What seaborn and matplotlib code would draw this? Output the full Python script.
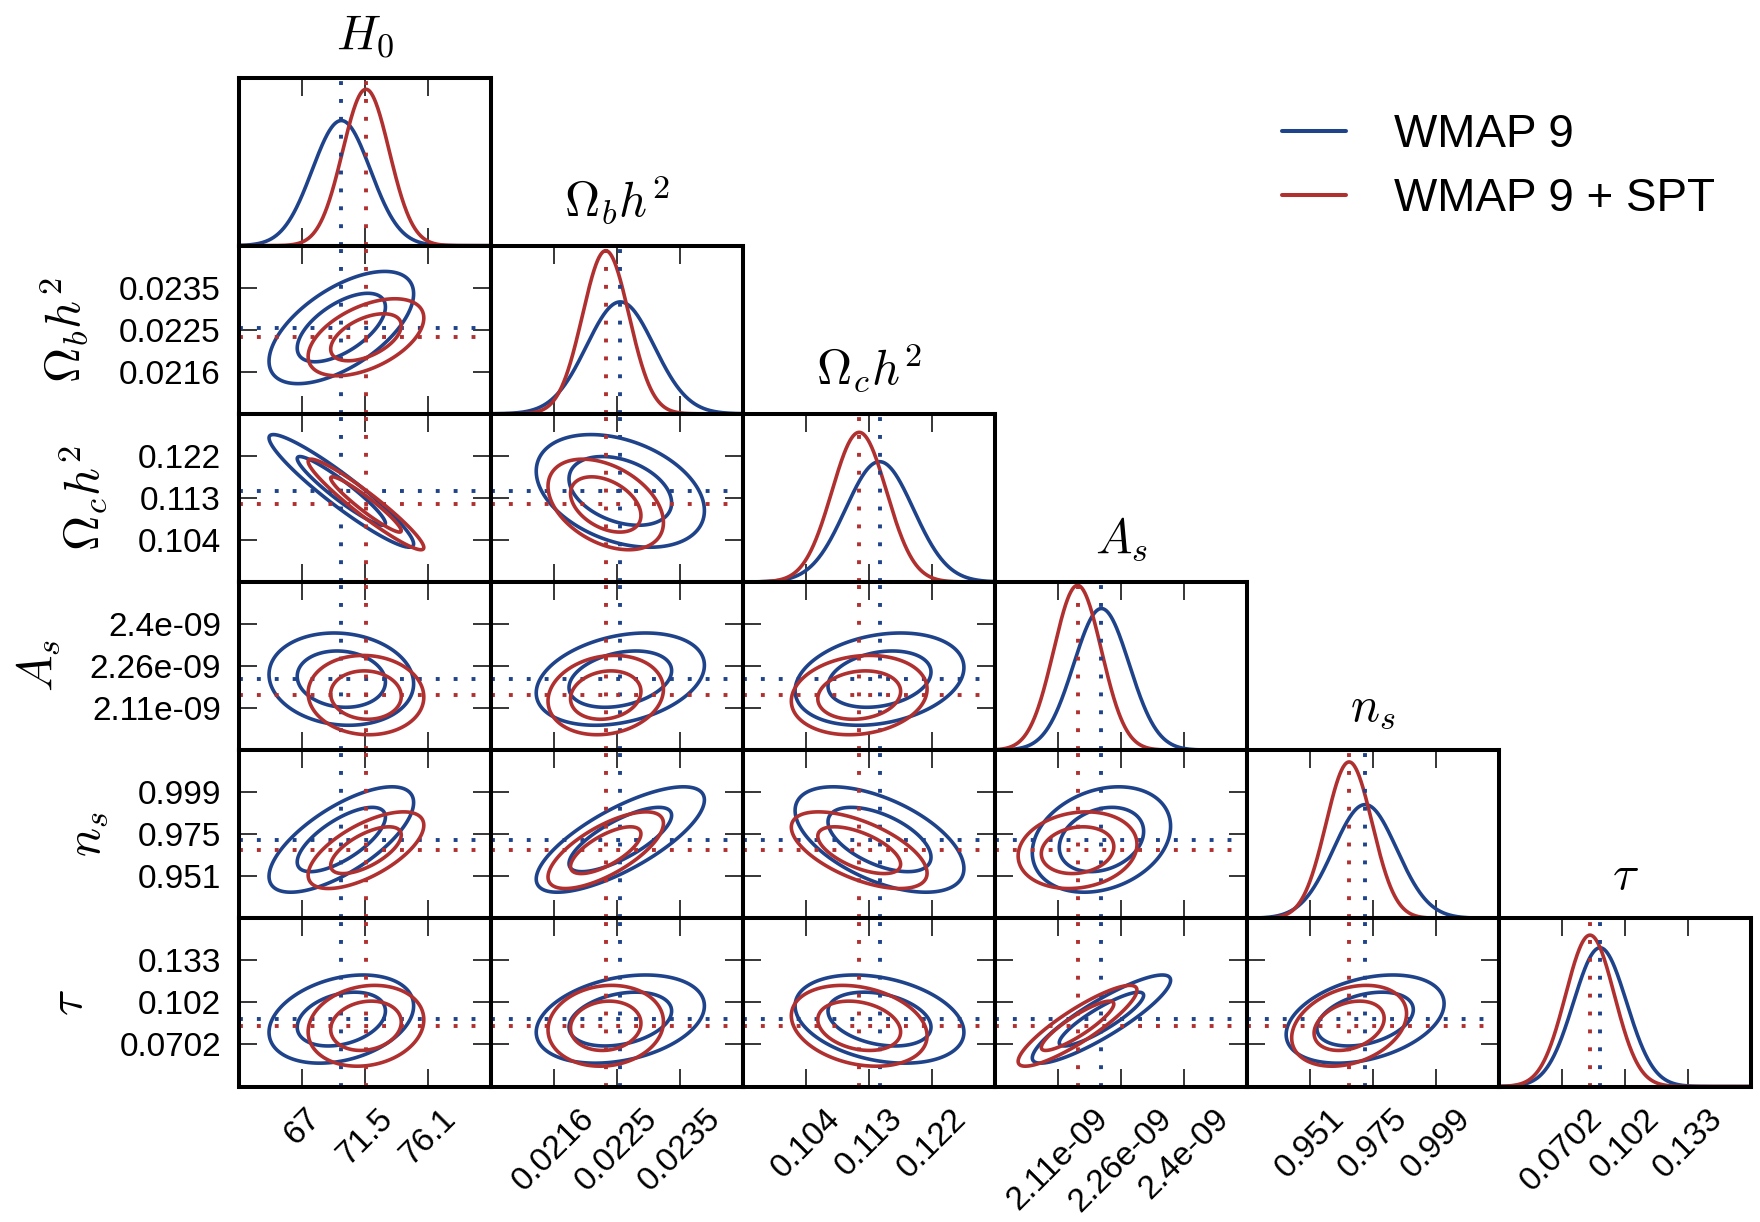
import numpy as np
import matplotlib
matplotlib.use("Agg")
import matplotlib.pyplot as plt
import seaborn as sns
import pandas as pd
from matplotlib.lines import Line2D

# ---------------- data ----------------
param_labels = [r'$H_0$', r'$\Omega_b h^2$', r'$\Omega_c h^2$', r'$A_s$', r'$n_s$', r'$\tau$']
axis_lo = [62.45, 0.02065, 0.095, 1.965e-9, 0.927, 0.0391]
axis_hi = [80.65, 0.02445, 0.131, 2.545e-9, 1.023, 0.1643]
tick_values = [[67.0, 71.55, 76.1],
               [0.0216, 0.02255, 0.0235],
               [0.104, 0.113, 0.122],
               [2.11e-9, 2.255e-9, 2.40e-9],
               [0.951, 0.975, 0.999],
               [0.0704, 0.1017, 0.133]]
tick_labels = [['67', '71.5', '76.1'],
               ['0.0216', '0.0225', '0.0235'],
               ['0.104', '0.113', '0.122'],
               ['2.11e-09', '2.26e-09', '2.4e-09'],
               ['0.951', '0.975', '0.999'],
               ['0.0702', '0.102', '0.133']]

datasets = ['WMAP 9', 'WMAP 9 + SPT']
wmap_mean = [69.84, 0.02260, 0.1145, 2.21e-9, 0.9720, 0.0893]
wmap_sigma = [2.10, 0.00051, 0.00485, 0.064e-9, 0.0121, 0.0132]
spt_mean = [71.62, 0.02238, 0.1116, 2.155e-9, 0.9659, 0.0843]
spt_sigma = [1.68, 0.00035, 0.0039, 0.055e-9, 0.0088, 0.0121]

# lower-triangle correlation coefficients, row i lists rho(i, j) for j < i
wmap_corr = [[],
             [0.60],
             [-0.94, -0.35],
             [-0.10, 0.30, 0.25],
             [0.70, 0.75, -0.55, 0.25],
             [0.30, 0.30, -0.30, 0.88, 0.35]]
spt_corr = [[],
            [0.50],
            [-0.95, -0.40],
            [-0.05, 0.15, 0.15],
            [0.65, 0.70, -0.60, 0.15],
            [0.15, 0.10, -0.25, 0.88, 0.30]]

# height of the taller (red) 1D peak as a fraction of each diagonal panel
diag_peak_frac = [0.93, 0.97, 0.89, 0.98, 0.93, 0.90]

# ---------------- style ----------------
sns.set_style("ticks")
plt.rcParams['font.family'] = ['Liberation Sans', 'DejaVu Sans']
plt.rcParams['mathtext.fontset'] = 'cm'
plt.rcParams['axes.edgecolor'] = 'black'
plt.rcParams['text.color'] = 'black'
plt.rcParams['axes.labelcolor'] = 'black'
plt.rcParams['xtick.color'] = 'black'
plt.rcParams['ytick.color'] = 'black'
plt.rcParams['xtick.labelcolor'] = 'black'
plt.rcParams['ytick.labelcolor'] = 'black'

BLUE = '#1f438a'
RED = '#b03030'
colors = [BLUE, RED]
means = [wmap_mean, spt_mean]
sigmas = [wmap_sigma, spt_sigma]
corrs = [wmap_corr, spt_corr]

LW = 2.6
DOT_LW = 2.8
DOT = (0, (1, 3.6))
r2_levels = [2.30, 6.18]  # 68% and 95% 2D regions
TICK_FS = 24

n = len(param_labels)
fig, axes = plt.subplots(n, n, figsize=(17.6, 12.22), dpi=100,
                         gridspec_kw=dict(left=239 / 1760, right=1751 / 1760,
                                          top=1 - 77.5 / 1222, bottom=1 - 1086.5 / 1222,
                                          wspace=0, hspace=0))

for i in range(n):
    for j in range(n):
        ax = axes[i, j]
        if j > i:
            ax.set_visible(False)
            continue
        for s in ax.spines.values():
            s.set_linewidth(2.9)
            s.set_color('black')
        ax.set_xlim(axis_lo[j], axis_hi[j])
        ax.set_xticks(tick_values[j])
        ax.set_xticklabels(tick_labels[j])
        if i == j:
            xs = np.linspace(axis_lo[i], axis_hi[i], 500)
            frames = []
            for d in range(2):
                m, sg = means[d][i], sigmas[d][i]
                dens = np.exp(-0.5 * ((xs - m) / sg) ** 2) / (sg * np.sqrt(2 * np.pi))
                frames.append(pd.DataFrame({'x': xs, 'density': dens, 'dataset': datasets[d]}))
            df = pd.concat(frames, ignore_index=True)
            sns.lineplot(data=df, x='x', y='density', hue='dataset',
                         palette=dict(zip(datasets, colors)), linewidth=LW,
                         legend=False, ax=ax)
            red_peak = 1.0 / (sigmas[1][i] * np.sqrt(2 * np.pi))
            ax.set_ylim(0, red_peak / diag_peak_frac[i])
            for d in range(2):
                ax.axvline(means[d][i], color=colors[d], lw=DOT_LW, ls=DOT)
            ax.set_yticks([])
            ax.tick_params(axis='x', direction='in', length=13, width=1.1,
                           top=True, bottom=True, labelbottom=(i == n - 1),
                           labelsize=TICK_FS, pad=12)
            ax.set_title(param_labels[i], fontsize=35, pad=21)
            ax.set_ylabel('')
        else:
            ax.set_ylim(axis_lo[i], axis_hi[i])
            ax.set_yticks(tick_values[i])
            ax.set_yticklabels(tick_labels[i])
            xs = np.linspace(axis_lo[j], axis_hi[j], 400)
            ys = np.linspace(axis_lo[i], axis_hi[i], 400)
            X, Y = np.meshgrid(xs, ys)
            for d in range(2):
                mx, my = means[d][j], means[d][i]
                sx, sy = sigmas[d][j], sigmas[d][i]
                rho = corrs[d][i][j]
                dx = (X - mx) / sx
                dy = (Y - my) / sy
                r2 = (dx ** 2 - 2 * rho * dx * dy + dy ** 2) / (1 - rho ** 2)
                ax.contour(X, Y, r2, levels=r2_levels, colors=colors[d], linewidths=LW)
                ax.axvline(mx, color=colors[d], lw=DOT_LW, ls=DOT)
                ax.axhline(my, color=colors[d], lw=DOT_LW, ls=DOT)
            ax.tick_params(axis='both', direction='in', length=13, width=1.1,
                           top=True, bottom=True, left=True, right=True,
                           labelsize=TICK_FS)
            ax.tick_params(axis='x', labelbottom=(i == n - 1), pad=12)
            ax.tick_params(axis='y', labelleft=(j == 0), pad=13)
            if j == 0:
                ax.set_ylabel(param_labels[i], fontsize=35, labelpad=20)
            else:
                ax.set_ylabel('')
        ax.set_xlabel('')
        if i == n - 1:
            for lab in ax.get_xticklabels():
                lab.set_rotation(45)
                lab.set_ha('center')
                lab.set_va('top')

handles = [Line2D([0], [0], color=c, lw=2.9) for c in colors]
fig.legend(handles, datasets, loc='center left', bbox_to_anchor=(1282 / 1760, 1 - 167 / 1222),
           frameon=False, fontsize=33, handlelength=1.39, handletextpad=1.05,
           borderpad=0, borderaxespad=0, labelspacing=0.45, labelcolor='black')

fig.savefig('out.png', dpi=100)
